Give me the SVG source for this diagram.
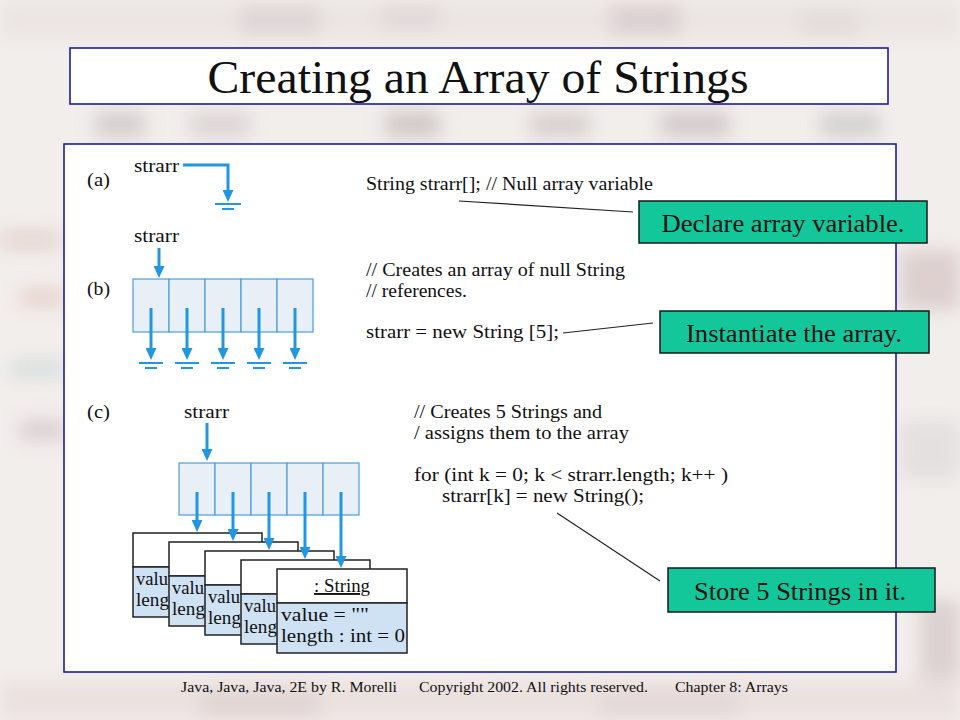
<svg xmlns="http://www.w3.org/2000/svg" width="960" height="720" viewBox="0 0 960 720">
<style>
.serif{font-family:"Liberation Serif","Times New Roman",serif;fill:#111}
.fig{font-size:19px}
.call{font-size:26px}
.foot{font-size:15.5px}
.ptr{stroke:#2196e3;stroke-width:3;fill:none}
.gnd{stroke:#2196e3;stroke-width:2}
.cell{fill:#e8eff7;stroke:#4a9fdc;stroke-width:1.2}
.obj{stroke:#222;stroke-width:1.5}
.green{fill:#13c79b;stroke:#1a1a1a;stroke-width:1.5}
.lead{stroke:#222;stroke-width:1.2}
.frame{fill:#fff;stroke:#1c1c9c;stroke-width:1.6}
</style>
<defs>
<marker id="ah" viewBox="0 0 12 11" refX="6" refY="5.5" markerWidth="12" markerHeight="11" markerUnits="userSpaceOnUse" orient="auto">
<path d="M0,0 L12,5.5 L0,11 z" fill="#2196e3"/>
</marker>
<filter id="blur" x="-20%" y="-20%" width="140%" height="140%"><feGaussianBlur stdDeviation="9"/></filter>
</defs>

<g id="background">
<rect x="0" y="0" width="960" height="720" fill="#f2eeec"/>
<g filter="url(#blur)" opacity="0.75">
<rect x="0" y="0" width="960" height="40" fill="#e9e2e0"/>
<rect x="240" y="5" width="80" height="30" fill="#d8cfcf"/>
<rect x="380" y="5" width="60" height="25" fill="#dcd2d2"/>
<rect x="610" y="5" width="70" height="30" fill="#d3c6c8"/>
<rect x="800" y="10" width="60" height="25" fill="#ddd5d3"/>
<rect x="95" y="112" width="50" height="25" fill="#cbc3c3"/>
<rect x="190" y="112" width="60" height="25" fill="#d5cdcd"/>
<rect x="385" y="112" width="55" height="25" fill="#c6bcbc"/>
<rect x="530" y="112" width="60" height="25" fill="#cfc6c6"/>
<rect x="660" y="112" width="70" height="25" fill="#c9bfc0"/>
<rect x="820" y="112" width="60" height="25" fill="#c7c9c8"/>
<rect x="0" y="230" width="60" height="20" fill="#e2cfc8"/>
<rect x="20" y="290" width="45" height="15" fill="#e0c4b8"/>
<rect x="10" y="360" width="55" height="18" fill="#cfd8da"/>
<rect x="20" y="420" width="45" height="20" fill="#d4c3c9"/>
<rect x="900" y="250" width="60" height="60" fill="#d6c6c6"/>
<rect x="900" y="420" width="60" height="60" fill="#e0dcdc"/>
<rect x="920" y="600" width="40" height="80" fill="#d4c8c8"/>
<rect x="0" y="680" width="960" height="40" fill="#e8dedc"/>
<rect x="200" y="690" width="120" height="30" fill="#dccdcc"/>
<rect x="600" y="690" width="140" height="30" fill="#dfd1d0"/>
</g>
</g>

<g id="title">
<rect class="frame" x="70" y="48" width="818" height="56"/>
<text class="serif" x="478" y="93" font-size="47" text-anchor="middle" textLength="541" lengthAdjust="spacingAndGlyphs">Creating an Array of Strings</text>
</g>

<g id="panel">
<rect class="frame" x="64" y="144" width="832" height="528"/>
</g>

<g id="part-a">
<text class="serif fig" x="87" y="186" textLength="23" lengthAdjust="spacingAndGlyphs">(a)</text>
<text class="serif fig" x="134" y="172" textLength="45" lengthAdjust="spacingAndGlyphs">strarr</text>
</g>

<g id="part-b">
<text class="serif fig" x="87" y="295" textLength="23" lengthAdjust="spacingAndGlyphs">(b)</text>
<text class="serif fig" x="134" y="242" textLength="45" lengthAdjust="spacingAndGlyphs">strarr</text>
<g id="array-b">
<rect class="cell" x="133" y="279" width="36" height="53"/>
<rect class="cell" x="169" y="279" width="36" height="53"/>
<rect class="cell" x="205" y="279" width="36" height="53"/>
<rect class="cell" x="241" y="279" width="36" height="53"/>
<rect class="cell" x="277" y="279" width="36" height="53"/>
</g>
</g>

<g id="part-c">
<text class="serif fig" x="87" y="418" textLength="23" lengthAdjust="spacingAndGlyphs">(c)</text>
<text class="serif fig" x="184" y="418" textLength="45" lengthAdjust="spacingAndGlyphs">strarr</text>
<g id="array-c">
<rect class="cell" x="179" y="463" width="36" height="52"/>
<rect class="cell" x="215" y="463" width="36" height="52"/>
<rect class="cell" x="251" y="463" width="36" height="52"/>
<rect class="cell" x="287" y="463" width="36" height="52"/>
<rect class="cell" x="323" y="463" width="36" height="52"/>
</g>
<g id="string-0">
<rect class="obj" x="133" y="533" width="129" height="34" fill="#fff"/>
<rect class="obj" x="133" y="567" width="129" height="50" fill="#cfe2f4"/>
<text class="serif fig" x="136" y="585" textLength="32" lengthAdjust="spacingAndGlyphs">valu</text>
<text class="serif fig" x="136" y="606" textLength="33" lengthAdjust="spacingAndGlyphs">leng</text>
</g>
<g id="string-1">
<rect class="obj" x="169" y="542" width="129" height="34" fill="#fff"/>
<rect class="obj" x="169" y="576" width="129" height="50" fill="#cfe2f4"/>
<text class="serif fig" x="172" y="594" textLength="32" lengthAdjust="spacingAndGlyphs">valu</text>
<text class="serif fig" x="172" y="615" textLength="33" lengthAdjust="spacingAndGlyphs">leng</text>
</g>
<g id="string-2">
<rect class="obj" x="205" y="551" width="129" height="34" fill="#fff"/>
<rect class="obj" x="205" y="585" width="129" height="50" fill="#cfe2f4"/>
<text class="serif fig" x="208" y="603" textLength="32" lengthAdjust="spacingAndGlyphs">valu</text>
<text class="serif fig" x="208" y="624" textLength="33" lengthAdjust="spacingAndGlyphs">leng</text>
</g>
<g id="string-3">
<rect class="obj" x="241" y="560" width="129" height="34" fill="#fff"/>
<rect class="obj" x="241" y="594" width="129" height="50" fill="#cfe2f4"/>
<text class="serif fig" x="244" y="612" textLength="32" lengthAdjust="spacingAndGlyphs">valu</text>
<text class="serif fig" x="244" y="633" textLength="33" lengthAdjust="spacingAndGlyphs">leng</text>
</g>
<g id="string-4">
<rect class="obj" x="277" y="569" width="130" height="34" fill="#fff"/>
<rect class="obj" x="277" y="603" width="130" height="50" fill="#cfe2f4"/>
<text class="serif fig" x="342" y="592" text-anchor="middle" text-decoration="underline" textLength="56" lengthAdjust="spacingAndGlyphs">: String</text>
<text class="serif fig" x="281" y="621" textLength="88" lengthAdjust="spacingAndGlyphs">value  =  ""</text>
<text class="serif fig" x="281" y="642" textLength="124" lengthAdjust="spacingAndGlyphs">length : int  =  0</text>
</g>
</g>

<g id="code">
<text class="serif fig" x="366" y="190" textLength="287" lengthAdjust="spacingAndGlyphs">String strarr[]; // Null array variable</text>
<text class="serif fig" x="366" y="276" textLength="259" lengthAdjust="spacingAndGlyphs">// Creates an array of null String</text>
<text class="serif fig" x="366" y="297" textLength="101" lengthAdjust="spacingAndGlyphs">// references.</text>
<text class="serif fig" x="366" y="338" textLength="193" lengthAdjust="spacingAndGlyphs">strarr = new String [5];</text>
<text class="serif fig" x="414" y="418" textLength="188" lengthAdjust="spacingAndGlyphs">// Creates 5 Strings and</text>
<text class="serif fig" x="414" y="439" textLength="215" lengthAdjust="spacingAndGlyphs">/  assigns them to the array</text>
<text class="serif fig" x="414" y="481" textLength="314" lengthAdjust="spacingAndGlyphs">for (int k = 0; k &lt; strarr.length; k++ )</text>
<text class="serif fig" x="442" y="502" textLength="202" lengthAdjust="spacingAndGlyphs">strarr[k] = new String();</text>
</g>

<g id="callout-declare">
<rect class="green" x="639" y="201" width="288" height="42"/>
<text class="serif call" x="783" y="232" text-anchor="middle" textLength="243" lengthAdjust="spacingAndGlyphs">Declare array variable.</text>
</g>
<g id="callout-instantiate">
<rect class="green" x="660" y="311" width="269" height="42"/>
<text class="serif call" x="794" y="342" text-anchor="middle" textLength="216" lengthAdjust="spacingAndGlyphs">Instantiate the array.</text>
</g>
<g id="callout-store">
<rect class="green" x="668" y="568" width="267" height="44"/>
<text class="serif call" x="800" y="600" text-anchor="middle" textLength="212" lengthAdjust="spacingAndGlyphs">Store 5 Strings in it.</text>
</g>

<g id="connectors">
<path class="ptr" d="M183,165 H228 V196" marker-end="url(#ah)"/>
<line class="gnd" x1="215" y1="204" x2="241" y2="204"/>
<line class="gnd" x1="222" y1="209" x2="234" y2="209"/>

<line class="ptr" x1="159" y1="248" x2="159" y2="272" marker-end="url(#ah)"/>
<line class="ptr" x1="151" y1="308" x2="151" y2="354" marker-end="url(#ah)"/>
<line class="ptr" x1="187" y1="308" x2="187" y2="354" marker-end="url(#ah)"/>
<line class="ptr" x1="223" y1="308" x2="223" y2="354" marker-end="url(#ah)"/>
<line class="ptr" x1="259" y1="308" x2="259" y2="354" marker-end="url(#ah)"/>
<line class="ptr" x1="295" y1="308" x2="295" y2="354" marker-end="url(#ah)"/>
<g class="gnd">
<line x1="139" y1="363" x2="163" y2="363"/><line x1="145" y1="368" x2="157" y2="368"/>
<line x1="175" y1="363" x2="199" y2="363"/><line x1="181" y1="368" x2="193" y2="368"/>
<line x1="211" y1="363" x2="235" y2="363"/><line x1="217" y1="368" x2="229" y2="368"/>
<line x1="247" y1="363" x2="271" y2="363"/><line x1="253" y1="368" x2="265" y2="368"/>
<line x1="283" y1="363" x2="307" y2="363"/><line x1="289" y1="368" x2="301" y2="368"/>
</g>

<line class="ptr" x1="207" y1="423" x2="207" y2="455" marker-end="url(#ah)"/>
<line class="ptr" x1="197" y1="492" x2="197" y2="526" marker-end="url(#ah)"/>
<line class="ptr" x1="233" y1="492" x2="233" y2="535" marker-end="url(#ah)"/>
<line class="ptr" x1="269" y1="492" x2="269" y2="544" marker-end="url(#ah)"/>
<line class="ptr" x1="305" y1="492" x2="305" y2="553" marker-end="url(#ah)"/>
<line class="ptr" x1="341" y1="492" x2="341" y2="562" marker-end="url(#ah)"/>

<line class="lead" x1="459" y1="201" x2="633" y2="212"/>
<line class="lead" x1="563" y1="333" x2="653" y2="323"/>
<line class="lead" x1="557" y1="513" x2="660" y2="581"/>
</g>

<g id="footer">
<text class="serif foot" x="181" y="692" textLength="216" lengthAdjust="spacingAndGlyphs">Java, Java, Java, 2E by R. Morelli</text>
<text class="serif foot" x="419" y="692" textLength="229" lengthAdjust="spacingAndGlyphs">Copyright 2002. All rights reserved.</text>
<text class="serif foot" x="675" y="692" textLength="113" lengthAdjust="spacingAndGlyphs">Chapter 8: Arrays</text>
</g>
</svg>
